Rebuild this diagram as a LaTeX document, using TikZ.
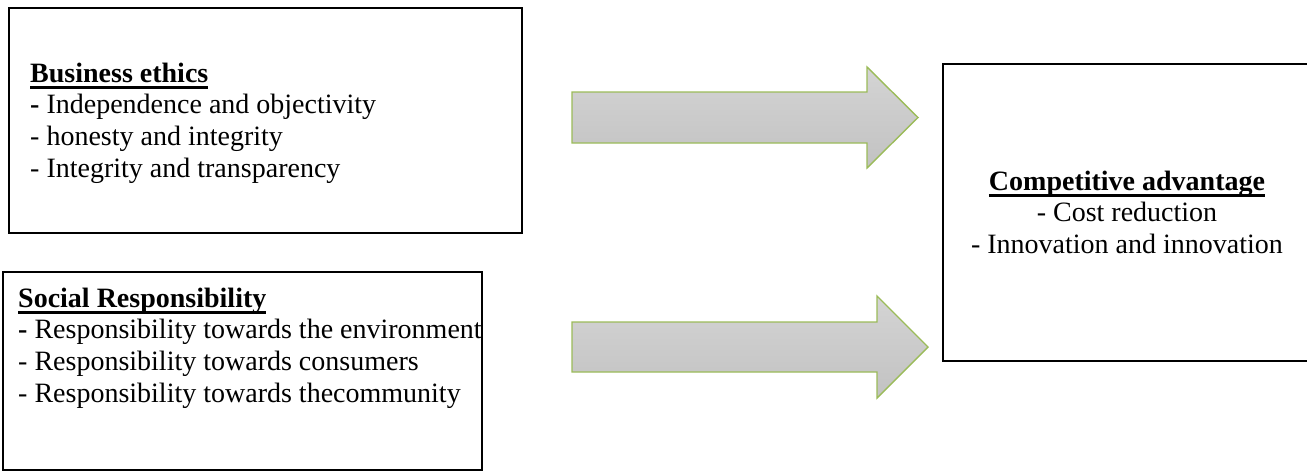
\documentclass[tikz,border=0pt]{standalone}
\usepackage{fontspec}
\setmainfont{Liberation Serif}
\definecolor{arrowtop}{RGB}{212,212,212}
\definecolor{arrowbot}{RGB}{194,194,194}
\definecolor{arrowgreen}{RGB}{155,187,89}
\newcommand\blockL[1]{\vtop{\baselineskip=31.8pt\lineskiplimit=-50pt\halign{##\hfil\cr#1\crcr}}}
\newcommand\blockC[1]{\vtop{\baselineskip=31.6pt\lineskiplimit=-50pt\halign{\hfil##\hfil\cr#1\crcr}}}
\newcommand\ulin[1]{\setbox0=\hbox{#1}\rlap{\rule[-6.5pt]{\wd0}{2.2pt}}\box0}
\begin{document}
\begin{tikzpicture}[x=1pt,y=-1pt,
  box/.style={draw=black, line width=2.8pt, inner sep=0pt},
  txt/.style={inner sep=0pt, font=\fontsize{28}{32}\selectfont},
  fatarrow/.style={draw=arrowgreen, line width=1.4pt, line join=miter, top color=arrowtop, bottom color=arrowbot}]
\useasboundingbox (0,0) rectangle (1307,471);
\clip (0,0) rectangle (1307,471);
% boxes
\node[box, minimum width=513pt, minimum height=225pt] (ethics) at (265.5,120.5) {};
\node[box, minimum width=479pt, minimum height=198pt] (social) at (242.5,371) {};
\node[box, minimum width=385pt, minimum height=297pt] (comp) at (1135.5,212.5) {};
% texts
\node[txt, anchor=base west] (ethicsText) at (30,82) {\blockL{\ulin{\textbf{Business ethics}}\cr
\textbf{-} Independence and objectivity\cr
- honesty and integrity\cr
- Integrity and transparency}};
\node[txt, anchor=base west] (socialText) at (18,307) {\blockL{\ulin{\textbf{Social Responsibility}}\cr
\textbf{-} Responsibility towards the environment\cr
- Responsibility towards consumers\cr
- Responsibility towards thecommunity}};
\node[txt, anchor=base] (compText) at (1127,190) {\blockC{\ulin{\textbf{Competitive advantage}}\cr
- Cost reduction\cr
- Innovation and innovation}};
% block arrows
\path[fatarrow] (572,92) -- (867,92) -- (867,67) -- (918,117.5) -- (867,168) -- (867,143) -- (572,143) -- cycle;
\path[fatarrow] (572,322) -- (877,322) -- (877,296) -- (928,347) -- (877,398) -- (877,372) -- (572,372) -- cycle;
\end{tikzpicture}
\end{document}
